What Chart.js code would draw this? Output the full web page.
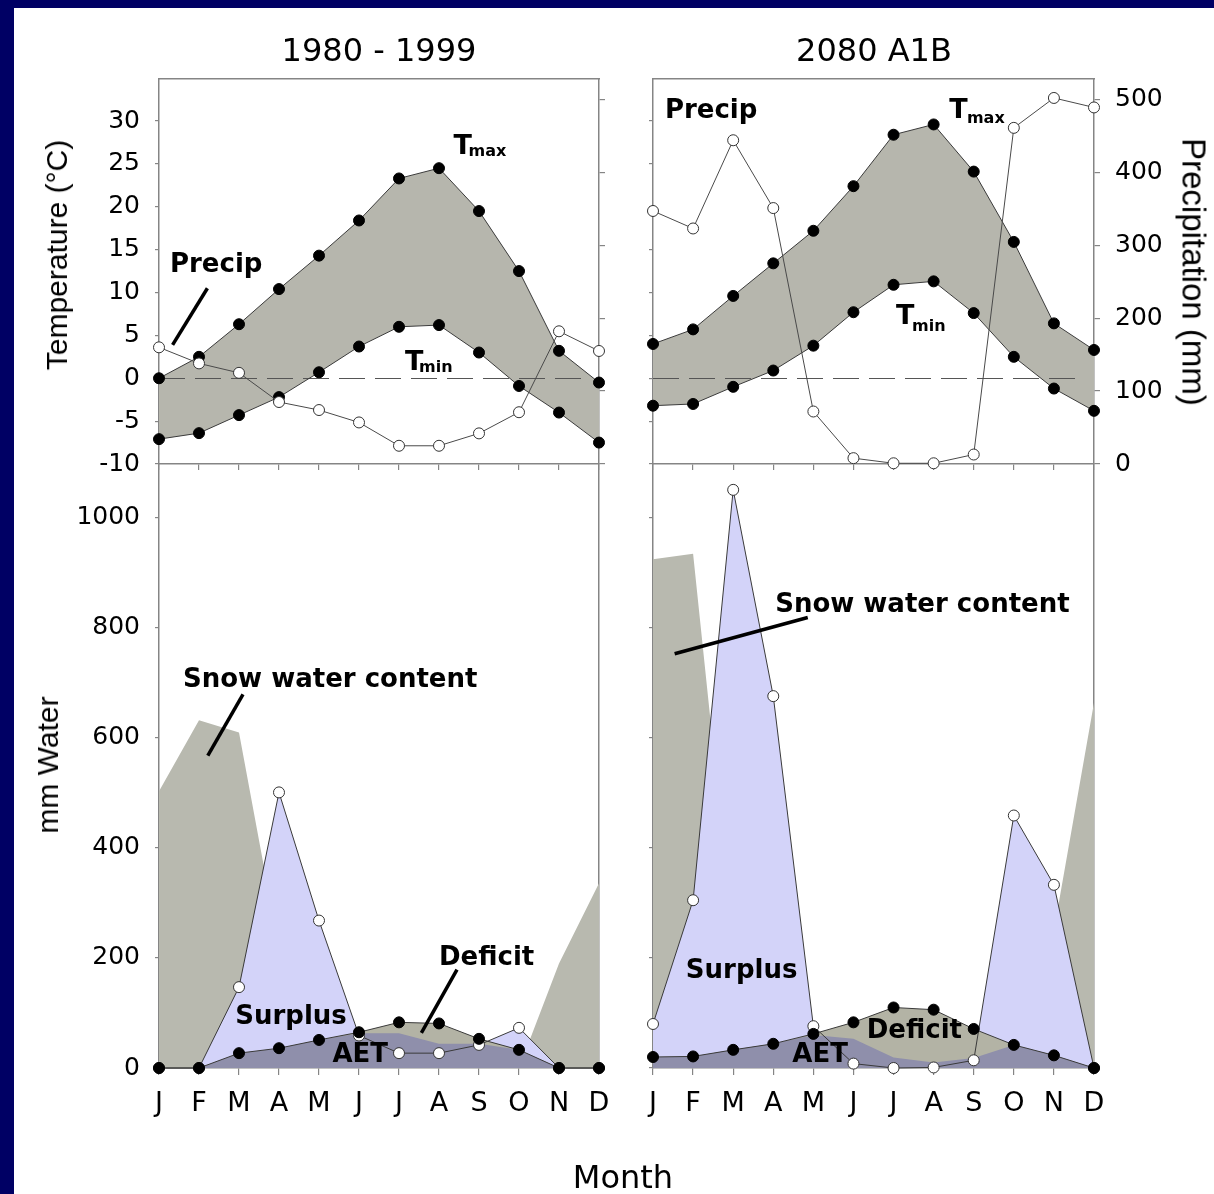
<!DOCTYPE html>
<html>
<head>
<meta charset="utf-8">
<script src="https://cdn.jsdelivr.net/npm/chart.js@4.4.1/dist/chart.umd.min.js"></script>
<style>
  html, body { margin: 0; padding: 0; }
  body { width: 1214px; height: 1194px; background: #000064; position: relative; overflow: hidden; }
  #page { position: absolute; left: 14px; top: 8px; right: 0; bottom: 0; background: #fff; }
  canvas.layer { position: absolute; left: 0; top: 0; }
  .txt { position: absolute; color: #000; white-space: nowrap; font-family: "DejaVu Sans", sans-serif;
         transform: translate(-50%, -50%); line-height: 1; }
  .rot { font-family: "Liberation Sans", Arial, sans-serif; }
</style>
</head>
<body>
<div id="page"></div>
<canvas id="tl" class="layer" width="1214" height="1194"></canvas>
<canvas id="tr" class="layer" width="1214" height="1194"></canvas>
<canvas id="bl" class="layer" width="1214" height="1194"></canvas>
<canvas id="br" class="layer" width="1214" height="1194"></canvas>

<div class="txt" style="left:379px; top:50px; font-size:32px;">1980 - 1999</div>
<div class="txt" style="left:874px; top:50px; font-size:32px;">2080 A1B</div>
<div class="txt" style="left:623px; top:1177px; font-size:32px;">Month</div>
<div class="txt rot" style="left:57px; top:255px; font-size:30px; transform: translate(-50%,-50%) rotate(-90deg);">Temperature (°C)</div>
<div class="txt rot" style="left:48px; top:765px; font-size:30px; transform: translate(-50%,-50%) rotate(-90deg);">mm Water</div>
<div class="txt rot" style="left:1194px; top:272px; font-size:33px; transform: translate(-50%,-50%) rotate(90deg);">Precipitation (mm)</div>

<script>
// month labels
const months = ['J', 'F', 'M', 'A', 'M', 'J', 'J', 'A', 'S', 'O', 'N', 'D'];

// 1980 - 1999 climate (deg C, mm)
const tmaxPast = [0, 2.5, 6.3, 10.4, 14.3, 18.4, 23.3, 24.5, 19.5, 12.5, 3.2, -0.5];
const tminPast = [-7.1, -6.4, -4.3, -2.2, 0.7, 3.7, 6.0, 6.2, 3.0, -0.9, -4.0, -7.5];
const precipPast = [160, 138, 125, 85, 74, 57, 25, 25, 42, 71, 182, 155];

// 2080 A1B climate
const tmaxFut = [4.0, 5.7, 9.6, 13.4, 17.2, 22.4, 28.4, 29.6, 24.1, 15.9, 6.4, 3.3];
const tminFut = [-3.2, -3.0, -1.0, 0.9, 3.8, 7.7, 10.9, 11.3, 7.6, 2.5, -1.2, -3.8];
const precipFut = [347, 323, 444, 351, 72, 8, 1, 1, 13, 461, 502, 489];

// water balance 1980 - 1999 (mm)
const snowPast = [503, 632, 610, 218, 0, 0, 0, 0, 0, 0, 190, 336];
const surplusPast = [0, 0, 147, 501, 268, 59, 27, 27, 42, 73, 0, 0];
const petPast = [0, 0, 27, 36, 51, 65, 83, 81, 53, 33, 0, 0];
const aetPast = [0, 0, 27, 36, 51, 63, 63, 44, 44, 33, 0, 0];

// water balance 2080 A1B (mm)
const snowFut = [925, 935, 237, 0, 0, 0, 0, 0, 0, 0, 250, 664];
const surplusFut = [80, 305, 1051, 676, 76, 8, 0, 1, 14, 459, 333, 0];
const petFut = [20, 21, 33, 44, 62, 83, 110, 106, 71, 42, 23, 0];
const aetFut = [20, 21, 33, 44, 60, 53, 19, 10, 18, 42, 23, 0];

// axis ranges and tick steps
const tempTicks = { min: -10, max: 34.9, step: 5 };
const precipTicks = { min: 0, max: 528, step: 100 };
const waterTicks = { min: 0, max: 1098, step: 200 };

const FRAME = '#858585';
const BAND = '#b6b6ad';
const SNOW = '#b8b9af';
const LAVENDER = '#d3d3f9';
const AETCOL = '#8f8fab';
const DEFICIT = '#b3b3a5';
const TICKFONT = { family: 'DejaVu Sans', size: 25 };

Chart.defaults.font.family = 'DejaVu Sans';

// bold labels and pointer lines, placed in data units
const notesPlugin = {
  id: 'notes',
  afterDatasetsDraw(chart, args, opts) {
    const ctx = chart.ctx, xs = chart.scales.x, ys = chart.scales.y;
    ctx.save();
    (opts.items || []).forEach(it => {
      if (it.line) {
        ctx.beginPath();
        ctx.moveTo(xs.getPixelForValue(it.line[0]), ys.getPixelForValue(it.line[1]));
        ctx.lineTo(xs.getPixelForValue(it.line[2]), ys.getPixelForValue(it.line[3]));
        ctx.lineWidth = 3.5;
        ctx.strokeStyle = '#000';
        ctx.stroke();
      } else {
        ctx.font = 'bold ' + (it.size || 26) + 'px "DejaVu Sans"';
        ctx.fillStyle = '#000';
        ctx.textAlign = it.align || 'center';
        ctx.textBaseline = it.base || 'middle';
        ctx.fillText(it.text, xs.getPixelForValue(it.at[0]), ys.getPixelForValue(it.at[1]));
      }
    });
    ctx.restore();
  }
};

// dashed 0 deg line, over the band but under the temperature lines
const zeroLine = {
  id: 'zeroLine',
  beforeDatasetDraw(chart, args) {
    if (args.index !== 0) return;
    const { ctx, chartArea } = chart;
    const py = Math.round(chart.scales.y.getPixelForValue(0)) + 0.5;
    ctx.save();
    ctx.setLineDash([26, 10]);
    ctx.strokeStyle = '#555';
    ctx.lineWidth = 1.2;
    ctx.beginPath();
    ctx.moveTo(chartArea.left, py);
    ctx.lineTo(chartArea.right - 12, py);
    ctx.stroke();
    ctx.restore();
  }
};

function fix(size) {
  return s => { if (s.isHorizontal()) s.height = size; else s.width = size; };
}

function sideAxis(position, t, width, tickLen, labels, padding) {
  return {
    type: 'linear', position: position, min: t.min, max: t.max, afterFit: fix(width),
    ticks: {
      stepSize: t.step, includeBounds: false, display: labels, font: TICKFONT, color: '#000', padding: padding,
      callback: v => String(v)
    },
    grid: { drawOnChartArea: false, drawTicks: tickLen > 0, tickLength: tickLen, color: FRAME, lineWidth: 1.2 },
    border: { color: FRAME, width: 1.5 }
  };
}

function bottomAxis(height, tickLen, labels) {
  return {
    type: 'category', position: 'bottom', offset: false, afterFit: fix(height),
    ticks: { display: labels, font: { family: 'DejaVu Sans', size: 27 }, color: '#000', padding: 13, maxRotation: 0, autoSkip: false },
    grid: { drawOnChartArea: false, tickLength: tickLen, color: FRAME, lineWidth: 1.2 },
    border: { color: FRAME, width: 1.5 }
  };
}

function line(data, opts) {
  return Object.assign({
    data: data, tension: 0, clip: false, fill: false,
    borderColor: '#3a3a3a', borderWidth: 1,
    pointRadius: 5.5, pointHoverRadius: 5.5, pointBorderWidth: 1
  }, opts);
}

function area(data, color, order) {
  return { data: data, fill: 'origin', backgroundColor: color, borderWidth: 0, pointRadius: 0, tension: 0, order: order };
}

const common = { responsive: false, animation: false, devicePixelRatio: 1, events: [] };

function tempChart(id, tmax, tmin, precip, side, notes) {
  return new Chart(document.getElementById(id), {
    type: 'line',
    data: {
      labels: months,
      datasets: [
        line(tmax, { fill: '+1', backgroundColor: BAND, pointBackgroundColor: '#000', pointBorderColor: '#000', order: 3 }),
        line(tmin, { pointBackgroundColor: '#000', pointBorderColor: '#000', order: 2 }),
        line(precip, { yAxisID: 'yp', borderColor: '#4a4a4a', pointBackgroundColor: '#fff', pointBorderColor: '#333', order: 1 })
      ]
    },
    options: Object.assign({}, common, {
      layout: { padding: { left: side.l - side.yw, right: 1214 - side.r - side.pw, top: 79, bottom: 1194 - 464 - 10 } },
      scales: {
        x: bottomAxis(10, 6, false),
        xt: {
          type: 'category', position: 'top', labels: months, offset: false, afterFit: fix(0),
          ticks: { display: false }, grid: { drawOnChartArea: false, drawTicks: false },
          border: { color: FRAME, width: 1.5 }
        },
        y: sideAxis('left', tempTicks, side.yw, 4, side.tempLabels, 15),
        yp: sideAxis('right', precipTicks, side.pw, 6, side.precipLabels, 15)
      },
      plugins: { legend: { display: false }, tooltip: { enabled: false }, notes: { items: notes } }
    }),
    plugins: [zeroLine, notesPlugin]
  });
}

function waterChart(id, snow, surplus, pet, aet, side, notes) {
  return new Chart(document.getElementById(id), {
    type: 'line',
    data: {
      labels: months,
      datasets: [
        line(pet, { pointBackgroundColor: '#000', pointBorderColor: '#000', order: 0 }),
        line(surplus, { pointBackgroundColor: '#fff', pointBorderColor: '#333', order: 1 }),
        area(aet, AETCOL, 2),
        area(pet, DEFICIT, 3),
        area(surplus, LAVENDER, 4),
        area(snow, SNOW, 5)
      ]
    },
    options: Object.assign({}, common, {
      layout: { padding: { left: side.l - side.yw, right: 1214 - side.r, top: 464, bottom: 1194 - 1068 - 80 } },
      scales: {
        x: bottomAxis(80, 7, true),
        y: sideAxis('left', waterTicks, side.yw, 4, side.labels, 15),
        yr: sideAxis('right', waterTicks, 0, 0, false, 0)
      },
      plugins: { legend: { display: false }, tooltip: { enabled: false }, notes: { items: notes } }
    }),
    plugins: [notesPlugin]
  });
}

tempChart('tl', tmaxPast, tminPast, precipPast,
  { l: 159, r: 599, yw: 100, pw: 20, tempLabels: true, precipLabels: false },
  [
    { text: 'Precip', at: [1.43, 13.2] },
    { line: [1.21, 10.5, 0.34, 3.9] },
    { text: 'T', at: [7.36, 26.2], align: 'left', base: 'alphabetic', size: 27 },
    { text: 'max', at: [7.74, 25.9], align: 'left', base: 'alphabetic', size: 16 },
    { text: 'T', at: [6.15, 1.0], align: 'left', base: 'alphabetic', size: 27 },
    { text: 'min', at: [6.5, 0.77], align: 'left', base: 'alphabetic', size: 16 }
  ]);

tempChart('tr', tmaxFut, tminFut, precipFut,
  { l: 653, r: 1094, yw: 20, pw: 80, tempLabels: false, precipLabels: true },
  [
    { text: 'Precip', at: [1.45, 31.1] },
    { text: 'T', at: [7.39, 30.4], align: 'left', base: 'alphabetic', size: 27 },
    { text: 'max', at: [7.83, 29.8], align: 'left', base: 'alphabetic', size: 16 },
    { text: 'T', at: [6.06, 6.3], align: 'left', base: 'alphabetic', size: 27 },
    { text: 'min', at: [6.46, 5.5], align: 'left', base: 'alphabetic', size: 16 }
  ]);

waterChart('bl', snowPast, surplusPast, petPast, aetPast,
  { l: 159, r: 599, yw: 100, labels: true },
  [
    { text: 'Snow water content', at: [4.28, 705] },
    { line: [2.10, 679, 1.22, 568] },
    { text: 'Surplus', at: [3.30, 93] },
    { text: 'AET', at: [5.03, 24] },
    { text: 'Deficit', at: [8.19, 200] },
    { line: [7.45, 179, 6.56, 64] }
  ]);

waterChart('br', snowFut, surplusFut, petFut, aetFut,
  { l: 653, r: 1094, yw: 20, labels: false },
  [
    { text: 'Snow water content', at: [6.72, 842] },
    { line: [3.86, 819, 0.54, 753] },
    { text: 'Surplus', at: [2.21, 175] },
    { text: 'AET', at: [4.17, 24] },
    { text: 'Deficit', at: [6.52, 66] }
  ]);
</script>
</body>
</html>
